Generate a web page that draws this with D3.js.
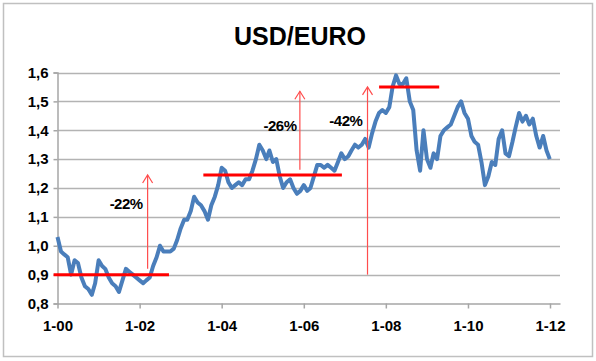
<!DOCTYPE html>
<html lang="en">
<head>
<meta charset="utf-8" />
<title>USD/EURO</title>
<script src="https://cdn.jsdelivr.net/npm/d3@7/dist/d3.min.js"></script>
<style>
  body { margin: 0; background: #fff; }
  text { font-family: "Liberation Sans", Arial, sans-serif; font-weight: bold; fill: #000; }
</style>
</head>
<body>
<svg width="596" height="361"></svg>
<script>
// monthly readings of the USD/EURO rate, Jan 2000 .. Dec 2011 (first of each month)
var startMonth = '2000-01';
var rates = [
  1.03, 0.98, 0.97, 0.96, 0.90, 0.95, 0.94, 0.89, 0.86, 0.85, 0.83, 0.87,
  0.95, 0.93, 0.92, 0.89, 0.87, 0.86, 0.84, 0.88, 0.92, 0.91, 0.90, 0.89,
  0.88, 0.87, 0.88, 0.89, 0.93, 0.96, 1.00, 0.98, 0.98, 0.98, 0.99, 1.02,
  1.06, 1.09, 1.09, 1.12, 1.17, 1.15, 1.14, 1.12, 1.09, 1.14, 1.17, 1.21,
  1.27, 1.26, 1.22, 1.20, 1.21, 1.22, 1.21, 1.23, 1.23, 1.26, 1.30, 1.35,
  1.33, 1.30, 1.33, 1.29, 1.30, 1.24, 1.20, 1.22, 1.23, 1.20, 1.18, 1.19,
  1.21, 1.19, 1.20, 1.24, 1.28, 1.28, 1.27, 1.28, 1.27, 1.26, 1.29, 1.32,
  1.30, 1.31, 1.33, 1.35, 1.34, 1.35, 1.37, 1.34, 1.39, 1.43, 1.46, 1.47,
  1.46, 1.48, 1.55, 1.59, 1.56, 1.56, 1.58, 1.50, 1.47, 1.33, 1.26, 1.40,
  1.30, 1.27, 1.32, 1.30, 1.38, 1.40, 1.41, 1.42, 1.45, 1.48, 1.50, 1.46,
  1.44, 1.38, 1.36, 1.35, 1.29, 1.21, 1.24, 1.29, 1.28, 1.37, 1.40, 1.32,
  1.31, 1.36, 1.41, 1.46, 1.43, 1.45, 1.42, 1.44, 1.38, 1.34, 1.38, 1.33
];
var lastDate = '2011-12-30', lastRate = 1.30;

var xTickLabels = ['1-00', '1-02', '1-04', '1-06', '1-08', '1-10', '1-12'];
var yTicks = [0.8, 0.9, 1.0, 1.1, 1.2, 1.3, 1.4, 1.5, 1.6];

// red horizontal levels
var levelStart = ['1999-11-27', '2003-07-22', '2007-11-02'];
var levelEnd   = ['2002-09-19', '2006-12-06', '2009-04-20'];
var levelValue = [0.90, 1.245, 1.55];

// red arrows and their labels
var arrowDate = ['2002-03-13', '2005-11-27', '2007-07-22'];
var arrowFrom = [0.92, 1.263, 0.90];
var arrowTo   = [1.245, 1.535, 1.55];
var labelText = ['-22%', '-26%', '-42%'];
var labelDate = ['2001-09-03', '2005-06-03', '2007-01-10'];
var labelValue = [1.145, 1.416, 1.433];

var parse = d3.timeParse('%Y-%m-%d');
var m0 = d3.timeParse('%Y-%m')(startMonth);
var series = rates.map(function(v, i) { return { date: d3.timeMonth.offset(m0, i), value: v }; });
series.push({ date: parse(lastDate), value: lastRate });

var svg = d3.select('svg');

// outer frame
svg.append('rect')
    .attr('x', 3.5).attr('y', 3.5).attr('width', 589).attr('height', 353)
    .attr('fill', '#fff').attr('stroke', '#c0c0c0').attr('stroke-width', 1.5);

var x = d3.scaleTime()
    .domain([parse('2000-01-01'), parse('2012-03-30')])
    .range([57.5, 560]);
var y = d3.scaleLinear().domain([0.8, 1.6]).range([303.5, 72.5]);

// title
svg.append('text')
    .attr('x', 300).attr('y', 45)
    .attr('text-anchor', 'middle')
    .style('font-size', '25px')
    .text('USD/EURO');

// horizontal gridlines
svg.append('g').selectAll('line')
    .data(yTicks.slice(1))
    .enter().append('line')
    .attr('x1', 57.5).attr('x2', 560)
    .attr('y1', function(d) { return Math.round(y(d)) + 0.5; })
    .attr('y2', function(d) { return Math.round(y(d)) + 0.5; })
    .attr('stroke', '#b3b3b3').attr('stroke-width', 1.5);

// y axis
var yAxis = d3.axisLeft(y).tickValues(yTicks)
    .tickFormat(function(d) { return d3.format('.1f')(d).replace('.', ','); })
    .tickSize(4).tickPadding(5);
var gy = svg.append('g').attr('transform', 'translate(57.5,0)').call(yAxis);
gy.select('.domain').attr('stroke', '#a6a6a6').attr('stroke-width', 1.5);
gy.selectAll('.tick line').attr('stroke', '#a6a6a6').attr('stroke-width', 1.5);
gy.selectAll('.tick text').style('font-size', '15px').style('font-family', '"Liberation Sans", Arial, sans-serif').attr('fill', '#000');

// x axis
var xTickDates = xTickLabels.map(function(s, i) { return new Date(2000 + 2 * i, 0, 1); });
var xAxis = d3.axisBottom(x).tickValues(xTickDates)
    .tickFormat(function(d, i) { return xTickLabels[i]; })
    .tickSize(5).tickPadding(12).tickSizeOuter(0);
var gx = svg.append('g').attr('transform', 'translate(0,303.5)').call(xAxis);
gx.select('.domain').attr('stroke', '#a6a6a6').attr('stroke-width', 1.5);
gx.selectAll('.tick line').attr('stroke', '#a6a6a6').attr('stroke-width', 1.5);
gx.selectAll('.tick text').style('font-size', '15px').style('font-family', '"Liberation Sans", Arial, sans-serif').attr('fill', '#000');

// rate line
var line = d3.line()
    .x(function(d) { return x(d.date); })
    .y(function(d) { return y(d.value); });
svg.append('path')
    .datum(series)
    .attr('fill', 'none')
    .attr('stroke', '#4a7ebb')
    .attr('stroke-width', 4)
    .attr('stroke-linejoin', 'round')
    .attr('d', line);

// red levels
svg.append('g').selectAll('line')
    .data(levelValue)
    .enter().append('line')
    .attr('x1', function(d, i) { return x(parse(levelStart[i])); })
    .attr('x2', function(d, i) { return x(parse(levelEnd[i])); })
    .attr('y1', function(d) { return y(d); })
    .attr('y2', function(d) { return y(d); })
    .attr('stroke', '#ff0000').attr('stroke-width', 3);

// arrows
var arrows = svg.append('g').selectAll('g')
    .data(arrowDate)
    .enter().append('g')
    .attr('stroke', '#ff4d4d').attr('stroke-width', 1.2).attr('fill', 'none');
arrows.append('line')
    .attr('x1', function(d) { return x(parse(d)); })
    .attr('x2', function(d) { return x(parse(d)); })
    .attr('y1', function(d, i) { return y(arrowFrom[i]); })
    .attr('y2', function(d, i) { return y(arrowTo[i]); });
arrows.append('path')
    .attr('d', function(d, i) {
        var ax = x(parse(d)), ay = y(arrowTo[i]);
        return 'M' + (ax - 5) + ',' + (ay + 8) + 'L' + ax + ',' + ay + 'L' + (ax + 5) + ',' + (ay + 8);
    });

// percentage labels
svg.append('g').selectAll('text')
    .data(labelText)
    .enter().append('text')
    .attr('x', function(d, i) { return x(parse(labelDate[i])); })
    .attr('y', function(d, i) { return y(labelValue[i]); })
    .attr('dy', '0.35em')
    .attr('text-anchor', 'middle')
    .style('font-size', '15px')
    .style('letter-spacing', '-0.5px')
    .text(function(d) { return d; });
</script>
</body>
</html>
